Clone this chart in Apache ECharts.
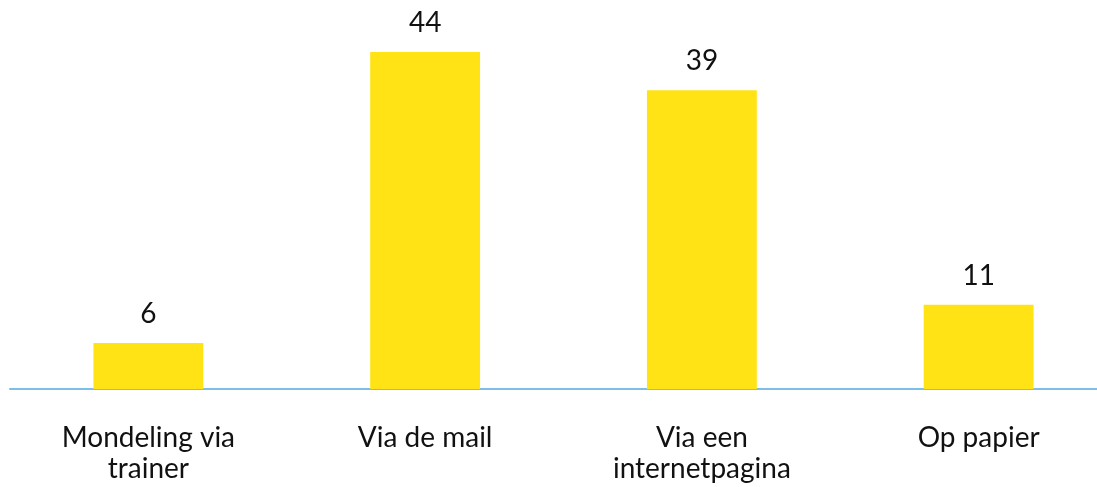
<!DOCTYPE html>
<html><head><meta charset="utf-8">
<script src="https://cdn.jsdelivr.net/npm/echarts@6/dist/echarts.min.js"></script>
<style>html,body{margin:0;padding:0;background:#fff;overflow:hidden}#c{width:1097px;height:487px}</style>
</head><body><div id="c"></div>
<script>
const categories = ["Mondeling via\ntrainer", "Via de mail", "Via een\ninternetpagina", "Op papier"];
const values = [6, 44, 39, 11];
const chart = echarts.init(document.getElementById('c'));
chart.setOption({
  animation: false,
  grid: {left: 10, width: 1107, top: 6, bottom: 98, containLabel: false, outerBoundsMode: 'none'},
  xAxis: {
    type: 'category', data: categories,
    axisLine: {lineStyle: {color: '#7DBDE8', width: 2}},
    axisTick: {show: false},
    axisLabel: {color: '#111', fontFamily: 'Lato', fontSize: 28, lineHeight: 31, margin: 33, interval: 0}
  },
  yAxis: {type: 'value', min: 0, max: 50, show: false, splitLine: {show: false}},
  series: [{
    type: 'bar', data: values, barWidth: '39.7%',
    itemStyle: {color: '#FFE314'},
    label: {show: true, position: 'top', distance: 15, color: '#111', fontFamily: 'Lato', fontSize: 28}
  }]
});
</script></body></html>
